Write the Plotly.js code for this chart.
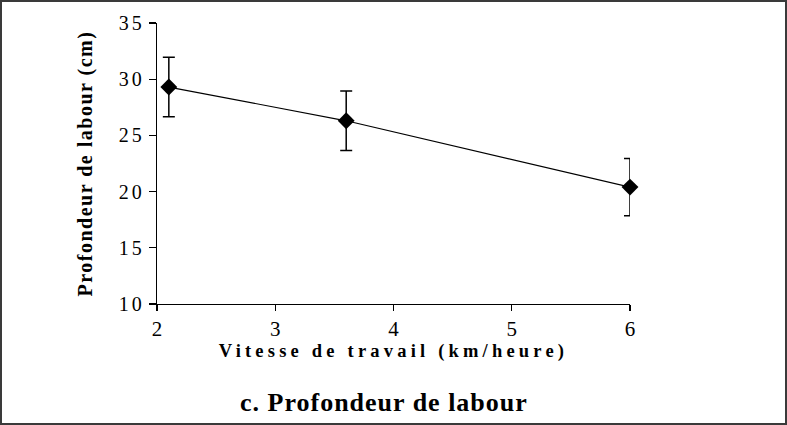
<!DOCTYPE html>
<html><head><meta charset="utf-8">
<script src="https://cdn.plot.ly/plotly-3.0.1.min.js"></script>
<style>
body{margin:0;background:#fff;}
#wrap{position:relative;width:787px;height:425px;}
#frame{position:absolute;left:0;top:0;width:783px;height:421px;border:2px solid #3a3a3a;pointer-events:none;}
.xtitle{letter-spacing:4.2px;}
.ytitle{letter-spacing:1.5px;}
.ytick text{letter-spacing:3px;}
.annotation-text{letter-spacing:1px;}
</style>
</head><body>
<div id="wrap"><div id="chart" style="width:787px;height:425px;"></div><div id="frame"></div></div>
<script>
const speed = [2.1, 3.6, 6.0];
const depth = [29.3, 26.3, 20.4];
const depthErr = [2.65, 2.65, 2.55];
const xTicks = [2, 3, 4, 5, 6];
const yTicks = [10, 15, 20, 25, 30, 35];

const trace = {
  x: speed, y: depth, type: 'scatter', mode: 'lines+markers', cliponaxis: false,
  line: {color: '#000', width: 1.2},
  marker: {symbol: 'diamond', size: 13, color: '#000'},
  error_y: {type: 'data', array: depthErr, visible: true, color: '#000', thickness: 1.5, width: 6}
};
const serif = 'Liberation Serif, Times New Roman, serif';
const layout = {
  width: 787, height: 425,
  margin: {l: 157, r: 157, t: 23, b: 121},
  paper_bgcolor: '#fff', plot_bgcolor: '#fff',
  showlegend: false,
  font: {family: serif, color: '#000'},
  xaxis: {
    range: [2, 6], tickvals: xTicks, ticktext: xTicks.map(String),
    showgrid: false, zeroline: false, showline: true, linecolor: '#000', linewidth: 1.2,
    ticks: 'outside', ticklen: 6, tickcolor: '#000', tickwidth: 1.2,
    tickfont: {family: serif, size: 21, color: '#000'},
    title: {text: '<b>Vitesse de travail (km/heure)</b>', font: {family: serif, size: 18.5, color: '#000'}, standoff: 2}
  },
  yaxis: {
    range: [10, 35], tickvals: yTicks, ticktext: yTicks.map(String),
    showgrid: false, zeroline: false, showline: true, linecolor: '#000', linewidth: 1.2,
    ticks: 'outside', ticklen: 7, tickcolor: '#000', tickwidth: 1.2,
    tickfont: {family: serif, size: 20, color: '#000'},
    title: {text: '<b>Profondeur de labour (cm)</b>', font: {family: serif, size: 20, color: '#000'}, standoff: 20}
  },
  annotations: [{
    text: '<b>c. Profondeur de labour</b>', xref: 'paper', yref: 'paper',
    x: 0.5, xshift: -10, y: -0.35, xanchor: 'center', yanchor: 'middle', showarrow: false,
    font: {family: serif, size: 26, color: '#000'}
  }]
};
Plotly.newPlot('chart', [trace], layout, {displayModeBar: false, staticPlot: true});
</script>
</body></html>
